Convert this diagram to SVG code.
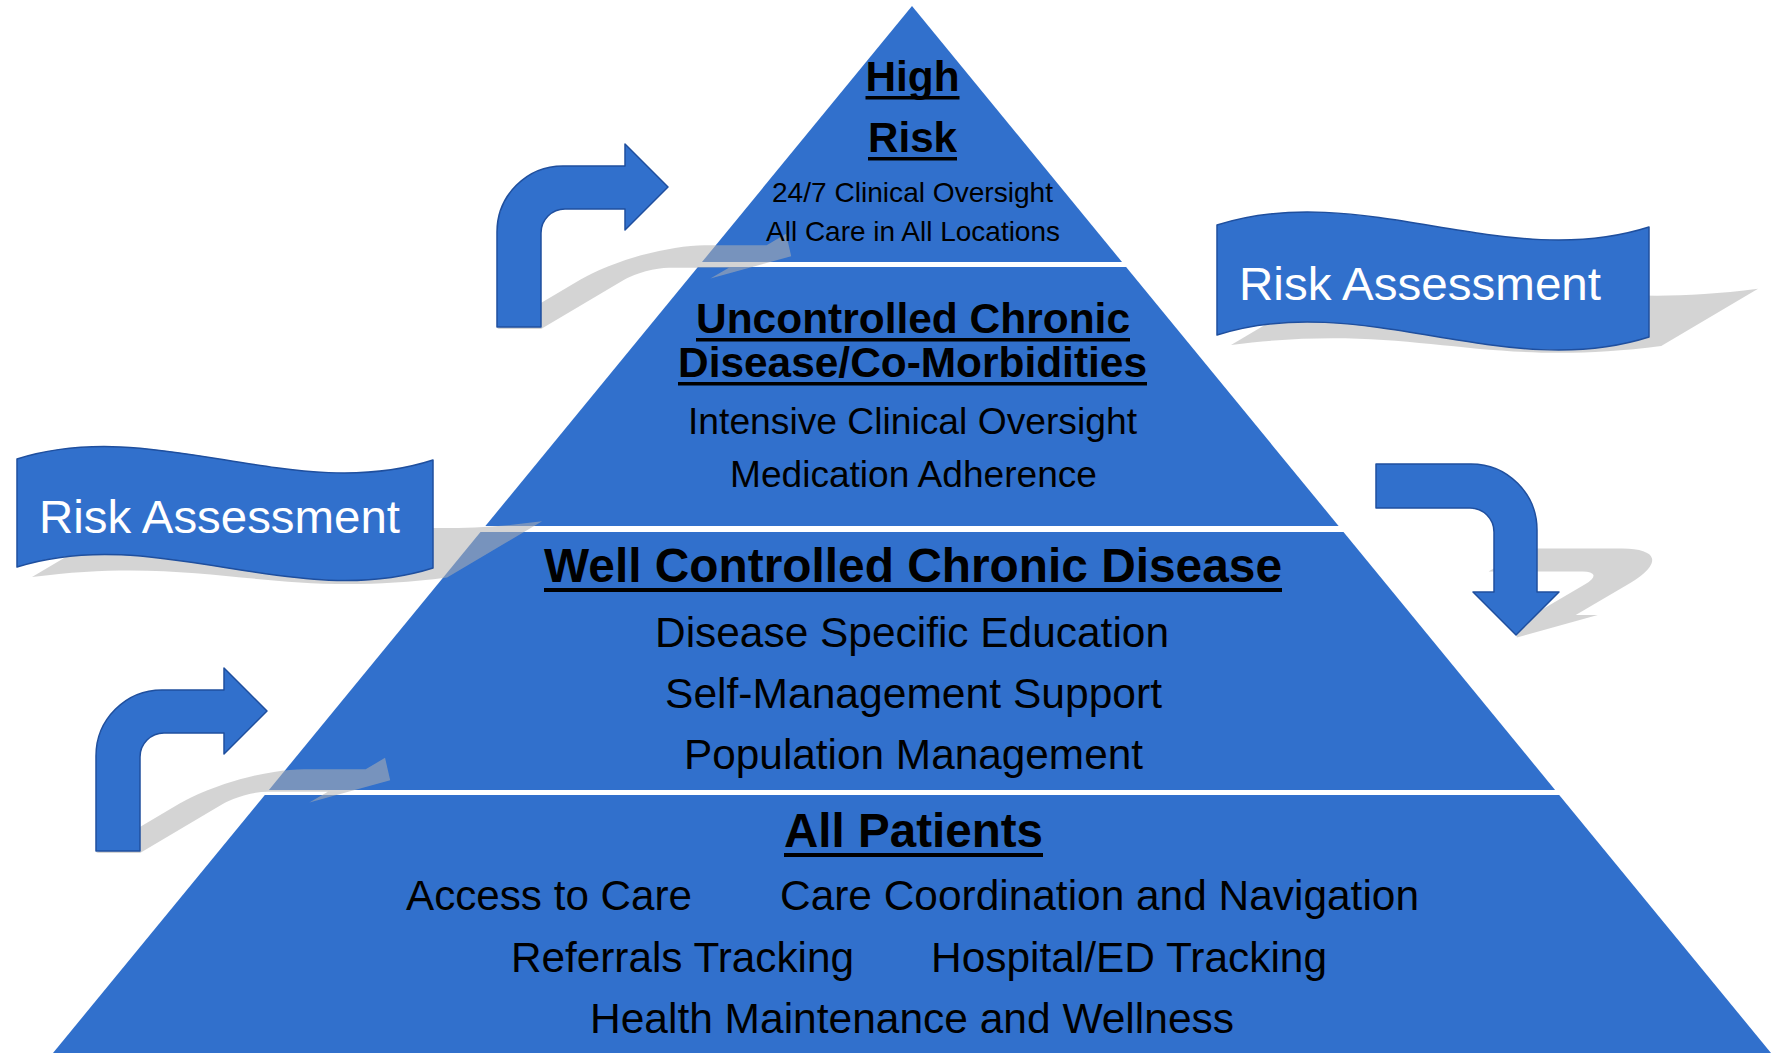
<svg xmlns="http://www.w3.org/2000/svg" xmlns:xlink="http://www.w3.org/1999/xlink" width="1777" height="1060" viewBox="0 0 1777 1060">
  <defs>
    <style>
      .band { fill: #3170cc; }
      .shape { fill: #3170cc; stroke: #1f4f9e; stroke-width: 1.5; stroke-linejoin: round; }
      .shadow { fill: #b0b0b0; fill-opacity: 0.55; }
      .t { font-family: "Liberation Sans", Arial, sans-serif; fill: #000; text-anchor: middle; }
      .b { font-weight: bold; }
      .w { fill: #fff; text-anchor: start; }
      .ul { fill: #000; }
    </style>
    <!-- bent arrow, origin at the bottom-left of the stem -->
    <path id="bent" d="M0,0 L0,-95 A66,66 0 0 1 66,-161 L128,-161 L128,-183 L171,-140 L128,-97 L128,-118 L68,-118 A24,24 0 0 0 44,-94 L44,0 Z"/>
    <path id="wave-left" d="M17,459 C156,415 294,505 433,460 L433,568 C294,612 156,523 17,567 Z"/>
    <path id="wave-right" d="M1217,225 C1361,179 1505,273 1649,227 L1649,337 C1505,383 1361,289 1217,335 Z"/>
  </defs>

  <rect width="1777" height="1060" fill="#fff"/>

  <!-- pyramid tiers -->
  <g id="tier-high-risk">
    <polygon class="band" points="912,6 1122,262 702,262"/>
  </g>
  <g id="tier-uncontrolled">
    <polygon class="band" points="697.9,267 1126.1,267 1338.6,526 485.4,526"/>
  </g>
  <g id="tier-well-controlled">
    <polygon class="band" points="480.5,532 1343.5,532 1555.1,790 268.9,790"/>
  </g>
  <g id="tier-all-patients">
    <polygon class="band" points="264.8,795 1559.2,795 1771,1053 53,1053"/>
  </g>

  <!-- perspective shadows -->
  <g id="shadows">
    <g transform="matrix(1,0,-0.88,0.52,287.76,158.96)"><use xlink:href="#bent" href="#bent" class="shadow" transform="translate(497,327)"/></g>
    <g transform="matrix(1,0,-0.88,0.52,748.88,410.48)"><use xlink:href="#bent" href="#bent" class="shadow" transform="translate(96,851)"/></g>
    <g transform="matrix(1,0,-0.88,0.52,559.68,307.28)"><use xlink:href="#bent" href="#bent" class="shadow" transform="translate(1376,464) rotate(90)"/></g>
    <g transform="matrix(1,0,-0.88,0.52,513.96,282.16)"><use xlink:href="#wave-left" href="#wave-left" class="shadow"/></g>
    <g transform="matrix(1,0,-0.88,0.52,308.8,170.8)"><use xlink:href="#wave-right" href="#wave-right" class="shadow"/></g>
  </g>

  <!-- connectors: bent arrows -->
  <g id="connectors">
    <use id="arrow-up-top" xlink:href="#bent" href="#bent" class="shape" transform="translate(497,327)"/>
    <use id="arrow-up-bottom" xlink:href="#bent" href="#bent" class="shape" transform="translate(96,851)"/>
    <use id="arrow-down-right" xlink:href="#bent" href="#bent" class="shape" transform="translate(1376,464) rotate(90)"/>
  </g>

  <!-- risk assessment banners -->
  <g id="banner-left">
    <use xlink:href="#wave-left" href="#wave-left" class="shape"/>
    <text class="t w" x="39" y="533" font-size="47" textLength="361" lengthAdjust="spacingAndGlyphs">Risk Assessment</text>
  </g>
  <g id="banner-right">
    <use xlink:href="#wave-right" href="#wave-right" class="shape"/>
    <text class="t w" x="1239" y="300" font-size="47" textLength="362" lengthAdjust="spacingAndGlyphs">Risk Assessment</text>
  </g>

  <!-- tier labels -->
  <g id="label-high-risk">
    <text class="t b" x="912.5" y="91" font-size="42" textLength="94" lengthAdjust="spacingAndGlyphs">High</text>
    <rect class="ul" x="865.5" y="96" width="94" height="3.5"/>
    <text class="t b" x="912.5" y="152" font-size="42" textLength="89" lengthAdjust="spacingAndGlyphs">Risk</text>
    <rect class="ul" x="868" y="157" width="89" height="3.5"/>
    <text class="t" x="912.5" y="202" font-size="28" textLength="281" lengthAdjust="spacingAndGlyphs">24/7 Clinical Oversight</text>
    <text class="t" x="913" y="241" font-size="28" textLength="294" lengthAdjust="spacingAndGlyphs">All Care in All Locations</text>
  </g>
  <g id="label-uncontrolled">
    <text class="t b" x="913" y="333" font-size="42.5" textLength="434" lengthAdjust="spacingAndGlyphs">Uncontrolled Chronic</text>
    <rect class="ul" x="696" y="338" width="434" height="3.5"/>
    <text class="t b" x="912.5" y="377" font-size="42.5" textLength="469" lengthAdjust="spacingAndGlyphs">Disease/Co-Morbidities</text>
    <rect class="ul" x="678" y="382" width="469" height="3.5"/>
    <text class="t" x="912.5" y="434" font-size="37" textLength="449" lengthAdjust="spacingAndGlyphs">Intensive Clinical Oversight</text>
    <text class="t" x="913.5" y="487" font-size="37" textLength="367" lengthAdjust="spacingAndGlyphs">Medication Adherence</text>
  </g>
  <g id="label-well-controlled">
    <text class="t b" x="913" y="582" font-size="47.5" textLength="738" lengthAdjust="spacingAndGlyphs">Well Controlled Chronic Disease</text>
    <rect class="ul" x="544" y="588" width="738" height="4"/>
    <text class="t" x="912" y="647" font-size="42" textLength="514" lengthAdjust="spacingAndGlyphs">Disease Specific Education</text>
    <text class="t" x="913.5" y="708" font-size="42" textLength="497" lengthAdjust="spacingAndGlyphs">Self-Management Support</text>
    <text class="t" x="913.5" y="769" font-size="42" textLength="459" lengthAdjust="spacingAndGlyphs">Population Management</text>
  </g>
  <g id="label-all-patients">
    <text class="t b" x="913.5" y="847" font-size="47.5" textLength="259" lengthAdjust="spacingAndGlyphs">All Patients</text>
    <rect class="ul" x="784" y="853" width="259" height="4"/>
    <text class="t" x="549" y="910" font-size="42" textLength="286" lengthAdjust="spacingAndGlyphs">Access to Care</text>
    <text class="t" x="1099.5" y="910" font-size="42" textLength="639" lengthAdjust="spacingAndGlyphs">Care Coordination and Navigation</text>
    <text class="t" x="682.5" y="972" font-size="42" textLength="343" lengthAdjust="spacingAndGlyphs">Referrals Tracking</text>
    <text class="t" x="1129" y="972" font-size="42" textLength="396" lengthAdjust="spacingAndGlyphs">Hospital/ED Tracking</text>
    <text class="t" x="912" y="1033" font-size="42" textLength="644" lengthAdjust="spacingAndGlyphs">Health Maintenance and Wellness</text>
  </g>
</svg>
